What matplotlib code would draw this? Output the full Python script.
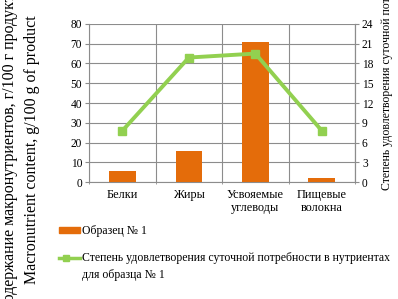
import matplotlib.pyplot as plt
import numpy as np
from matplotlib.patches import Rectangle
from matplotlib.lines import Line2D

plt.rcParams['font.family'] = ['Liberation Serif', 'DejaVu Serif']

categories = ["Белки", "Жиры", "Усвояемые\nуглеводы", "Пищевые\nволокна"]
content = [5.8, 15.5, 71.0, 2.0]
satisfaction = [7.8, 18.9, 19.5, 7.8]

orange = "#E46C0A"
green = "#92D050"
grid_c = "#8C8C8C"

W, H = 398, 299
fig = plt.figure(figsize=(W / 100, H / 100), dpi=100)
ax = fig.add_axes([0.224, 0.391, 0.668, 0.529])
x = np.arange(len(categories))

ax.bar(x, content, width=0.4, color=orange, zorder=3)
ax.set_xlim(-0.5, 3.5)
ax.set_ylim(0, 80)
ax.set_yticks(range(0, 81, 10))
ax.set_xticks(x)
ax.set_xticklabels(categories, fontsize=8.8, linespacing=1.1)
ax.set_xticks(np.arange(-0.5, 3.6, 1), minor=True)
ax.tick_params(axis='x', which='major', length=0, pad=5)
ax.tick_params(axis='x', which='minor', length=3, direction='inout', color=grid_c)
ax.tick_params(axis='y', labelsize=8.3, length=3, color=grid_c, pad=2)
ax.grid(axis='y', color=grid_c, linewidth=0.8, zorder=0)
ax.grid(axis='x', which='minor', color=grid_c, linewidth=0.8, zorder=0)
ax.spines['top'].set_visible(False)
for s in ['left', 'right', 'bottom']:
    ax.spines[s].set_color(grid_c)

ax2 = ax.twinx()
ax2.plot(x, satisfaction, color=green, linewidth=2.8, marker='s', markersize=6, zorder=4)
ax2.set_ylim(0, 24)
ax2.set_yticks(range(0, 25, 3))
ax2.tick_params(axis='y', labelsize=8.3, length=3, color=grid_c, pad=2)
for s in ['top', 'left', 'bottom']:
    ax2.spines[s].set_visible(False)
ax2.spines['right'].set_color(grid_c)

# axis titles (clipped at the figure edges, as in the original)
fig.text(0.025, 0.5, "Содержание макронутриентов, г/100 г продукта", rotation=90,
         ha='center', va='center', fontsize=11.5)
fig.text(0.08, 0.5, "Macronutrient content, g/100 g of product", rotation=90,
         ha='center', va='center', fontsize=11.5)
fig.text(0.972, 0.79, "Степень удовлетворения суточной потребности, %", rotation=90,
         ha='center', va='center', fontsize=8.5)

# legend drawn by hand in pixel coordinates
def fx(px): return px / W
def fy(py): return 1 - py / H

fig.patches.append(Rectangle((fx(59), fy(232.5)), fx(80) - fx(59), 5.5 / H,
                             transform=fig.transFigure, color=orange))
fig.text(fx(82), fy(231), "Образец № 1", ha='left', va='center', fontsize=8.5)
fig.lines.append(Line2D([fx(59), fx(80)], [fy(258), fy(258)], transform=fig.transFigure,
                        color=green, linewidth=2.5))
fig.lines.append(Line2D([fx(65.5)], [fy(258)], transform=fig.transFigure,
                        color=green, marker='s', markersize=4.5))
fig.text(fx(82), fy(258), "Степень удовлетворения суточной потребности в нутриентах",
         ha='left', va='center', fontsize=8.5)
fig.text(fx(82), fy(275), "для образца № 1", ha='left', va='center', fontsize=8.5)

fig.savefig("out.png", dpi=100)
